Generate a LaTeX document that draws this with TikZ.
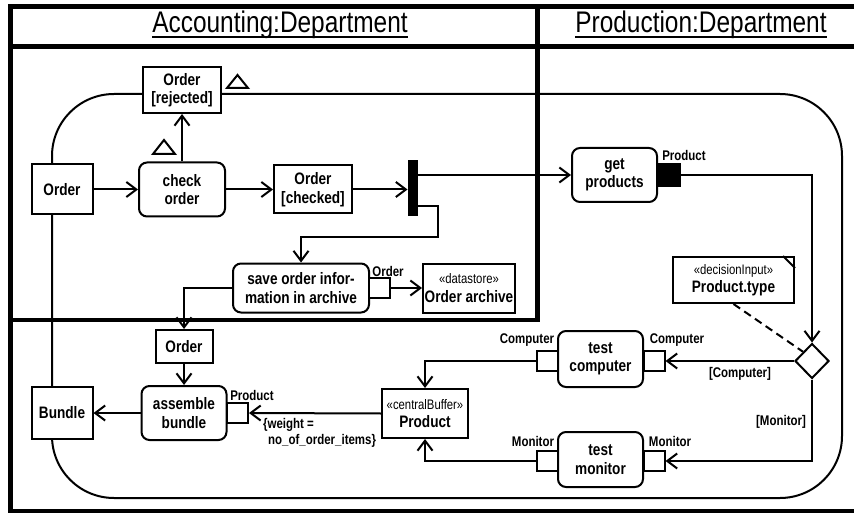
\documentclass[tikz,border=0pt]{standalone}
\usepackage{fontspec}
\setmainfont{Liberation Sans}[FakeStretch=0.82]
\usetikzlibrary{arrows.meta,shapes.geometric,calc}
\tikzset{
  lbl/.style={font=\bfseries\fontsize{16.6}{18.5}\selectfont, align=center},
  obj/.style={draw, line width=2pt, fill=white, lbl, inner sep=0pt},
  act/.style={obj, rounded corners=8pt},
  pin/.style={draw, line width=2pt, fill=white, minimum width=21pt, minimum height=20pt, inner sep=0pt},
  small/.style={font=\bfseries\fontsize{14}{16}\selectfont, inner sep=0pt},
  arr/.style={line width=2pt, -{Straight Barb[length=10pt,width=15pt]}},
  flow/.style={line width=2pt},
  part/.style={line width=4.5pt},
  hdr/.style={font=\fontsize{29.8}{32}\selectfont, inner sep=0pt, anchor=base},
  tri/.style={line width=2pt, line join=miter},
}
\newcommand{\stereo}[1]{{\mdseries\fontsize{13.8}{15}\selectfont #1}}
\begin{document}
\begin{tikzpicture}[x=1pt,y=-1pt]
\useasboundingbox (0,0) rectangle (854,513);
% frame and partitions
\draw[part, line join=miter] (856,6.5) -- (10.5,6.5) -- (10.5,511) -- (856,511);
\draw[part] (10.5,46.5) -- (856,46.5);
\draw[part, line join=miter] (537.5,6.5) -- (537.5,320) -- (10.5,320);
\node[hdr] (hA) at (280,33) {Accounting:Department};
\node[hdr] (hP) at (701,33) {Production:Department};
\draw[line width=2pt] ([yshift=-4.5pt]hA.base west) -- ([yshift=-4.5pt]hA.base east);
\draw[line width=2pt] ([yshift=-4.5pt]hP.base west) -- ([yshift=-4.5pt]hP.base east);
% activity boundary
\draw[flow, rounded corners=62pt] (52,94) rectangle (842,498);
% nodes
\node[obj, minimum width=78pt, minimum height=46pt] (rej) at (182,90) {Order\\{}[rejected]};
\node[obj, minimum width=61pt, minimum height=50pt] (order1) at (62,189.5) {Order};
\node[act, minimum width=86pt, minimum height=54pt] (check) at (182,189.5) {check\\order};
\node[obj, minimum width=78pt, minimum height=48pt] (checked) at (313,189.5) {Order\\{}[checked]};
\node[draw, fill=black, line width=1pt, minimum width=9pt, minimum height=55pt, inner sep=0pt] (bar) at (412.5,188.5) {};
\node[act, minimum width=136pt, minimum height=49pt] (save) at (301,288) {save order infor-\\mation in archive};
\node[pin] (opin) at (379.5,288) {};
\node[small] (opinl) at (388,271) {Order};
\node[obj, minimum width=92pt, minimum height=49pt] (ds) at (469,288) {\stereo{«datastore»}\\Order archive};
\node[obj, minimum width=57pt, minimum height=33pt] (order2) at (184,346.5) {Order};
\node[act, minimum width=85pt, minimum height=54pt] (asm) at (184,413) {assemble\\bundle};
\node[pin] (ppin) at (237.5,413) {};
\node[small] (ppinl) at (252,395) {Product};
\node[obj, minimum width=61pt, minimum height=52pt] (bundle) at (62,413) {Bundle};
\node[obj, minimum width=86pt, minimum height=49pt] (cb) at (425,413.5) {\stereo{«centralBuffer»}\\Product};
\node[small, anchor=north west, align=left] (wgt) at (263,418) {\{weight =\\\hspace*{5pt}no\_of\_order\_items\}};
\node[act, minimum width=85pt, minimum height=54pt] (getp) at (614.5,175) {get\\products};
\node[draw, fill=black, line width=2pt, minimum width=23pt, minimum height=22pt, inner sep=0pt] (gpin) at (668.5,175) {};
\node[small] (gpinl) at (684,155) {Product};
\node[obj, minimum width=121pt, minimum height=46pt] (note) at (733.5,280) {\stereo{«decisionInput»}\\Product.type};
\draw[line width=2pt] ([xshift=-12pt]note.north east) -- ([yshift=-12pt]note.north east);
\node[diamond, draw, line width=2pt, fill=white, minimum width=34pt, minimum height=35pt, inner sep=0pt] (dec) at (812,361) {};
\node[act, minimum width=85pt, minimum height=56pt] (tc) at (600.5,359) {test\\computer};
\node[pin] (tcl) at (547.5,361) {};
\node[pin] (tcr) at (654,361) {};
\node[small] (tcll) at (527,340) {Computer};
\node[small] (tcrl) at (677,340) {Computer};
\node[act, minimum width=85pt, minimum height=55pt] (tm) at (600.5,459.5) {test\\monitor};
\node[pin] (tml) at (547.5,461) {};
\node[pin] (tmr) at (654,461) {};
\node[small] (tmll) at (533,441) {Monitor};
\node[small] (tmrl) at (670,441) {Monitor};
\node[small] (gc) at (740,373.5) {[Computer]};
\node[small] (gm) at (781,422) {[Monitor]};
% triangles
\draw[tri] (237.5,75) -- (227,88) -- (248,88) -- cycle;
\draw[tri] (164,140) -- (153,154) -- (175,154) -- cycle;
% flows
\draw[arr] (order1) -- (check);
\draw[arr] (check) -- (rej);
\draw[arr] (check) -- (checked);
\draw[arr] (checked.east) -- (bar.west |- checked.east);
\draw[arr] (getp.west -| bar.east) -- (getp.west);
\coordinate (fk) at (438,237);
\draw[arr] ([yshift=10pt]bar.south east) -| (fk) -| (save.north);
\draw[arr] (opin.east) -- (ds.west);
\draw[arr] (save.west) -| (order2.north);
\draw[arr] (order2) -- (asm);
\draw[arr] (asm.west) -- (bundle.east);
\draw[arr] (cb.west) -- (ppin.east);
\draw[arr] (gpin.east) -| (dec.north);
\draw[line width=2pt, dash pattern=on 8pt off 5pt] (note.south) -- (dec.north west);
\draw[arr] (dec.west) -- (tcr.east);
\draw[arr] (dec.south) |- (tmr.east);
\draw[arr] (tcl.west) -| (cb.north);
\draw[arr] (tml.west) -| (cb.south);
\end{tikzpicture}
\end{document}
